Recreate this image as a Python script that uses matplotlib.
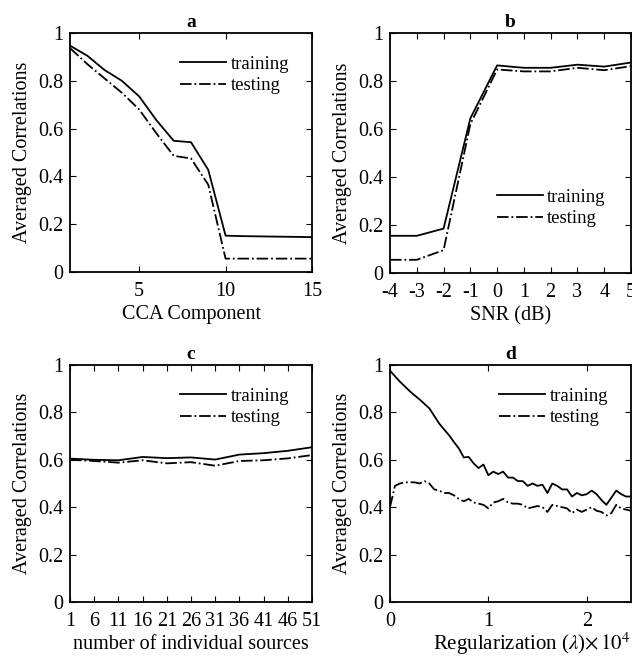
import matplotlib
matplotlib.use('Agg')
import matplotlib.pyplot as plt

plt.rcParams['font.family'] = ['Liberation Serif', 'DejaVu Serif']
plt.rcParams['mathtext.fontset'] = 'stix'
plt.rcParams['axes.unicode_minus'] = False
plt.rcParams['font.size'] = 14.5

# panel a
cca_x = list(range(1, 16))
cca_train = [0.947, 0.905, 0.845, 0.80, 0.735, 0.635, 0.549, 0.543, 0.427, 0.152,
             0.150, 0.149, 0.148, 0.147, 0.146]
cca_test = [0.937, 0.870, 0.810, 0.750, 0.680, 0.580, 0.486, 0.475, 0.365, 0.056,
            0.056, 0.056, 0.056, 0.056, 0.056]

# panel b
snr_x = [-4, -3, -2, -1, 0, 1, 2, 3, 4, 5]
snr_train = [0.155, 0.155, 0.185, 0.644, 0.865, 0.855, 0.855, 0.868, 0.860, 0.877]
snr_test = [0.055, 0.055, 0.095, 0.620, 0.848, 0.840, 0.840, 0.855, 0.845, 0.862]

# panel c
src_x = [1, 6, 11, 16, 21, 26, 31, 36, 41, 46, 51]
src_train = [0.605, 0.600, 0.598, 0.612, 0.607, 0.610, 0.601, 0.622, 0.628, 0.638, 0.653]
src_test = [0.600, 0.595, 0.588, 0.598, 0.585, 0.590, 0.575, 0.595, 0.598, 0.606, 0.620]

# panel d (x in units of 1e4)
reg_x = [i * 0.05 for i in range(50)]
reg_train = [0.976, 0.953, 0.930, 0.910, 0.890, 0.872, 0.855, 0.836, 0.817, 0.785,
             0.753, 0.728, 0.704, 0.675, 0.648, 0.610, 0.612, 0.585, 0.565, 0.580,
             0.535, 0.550, 0.540, 0.550, 0.525, 0.525, 0.510, 0.510, 0.490, 0.500,
             0.490, 0.495, 0.460, 0.500, 0.490, 0.475, 0.475, 0.445, 0.460, 0.450,
             0.455, 0.470, 0.455, 0.430, 0.410, 0.440, 0.470, 0.455, 0.445, 0.445]
reg_test = [0.400, 0.490, 0.500, 0.505, 0.505, 0.505, 0.500, 0.510, 0.500, 0.475,
            0.470, 0.460, 0.460, 0.450, 0.435, 0.425, 0.435, 0.420, 0.415, 0.410,
            0.395, 0.420, 0.425, 0.435, 0.420, 0.415, 0.415, 0.410, 0.395, 0.400,
            0.405, 0.400, 0.380, 0.410, 0.405, 0.400, 0.395, 0.375, 0.390, 0.380,
            0.390, 0.400, 0.385, 0.380, 0.365, 0.375, 0.410, 0.395, 0.390, 0.385]

fig = plt.figure(figsize=(6.32, 6.57), dpi=100)
W, H = 632, 657


def make_ax(l, r, t, b):
    return fig.add_axes([l / W, 1 - b / H, (r - l) / W, (b - t) / H])


axa = make_ax(70, 312, 33, 272)
axb = make_ax(390, 631, 33, 273)
axc = make_ax(70, 312, 365, 602)
axd = make_ax(390, 631, 365, 602)

lw = 1.3
leg_kw = dict(frameon=False, handlelength=2.45, handletextpad=0.25,
              labelspacing=0.25, fontsize=13.5)
panels = [
    (axa, cca_x, cca_train, cca_test, 'a', 'CCA Component'),
    (axb, snr_x, snr_train, snr_test, 'b', 'SNR (dB)'),
    (axc, src_x, src_train, src_test, 'c', 'number of individual sources'),
    (axd, reg_x, reg_train, reg_test, 'd', r'Regularization ($\lambda$)$\times\,10^4$'),
]

for ax, x, tr, te, title, xlab in panels:
    ax.plot(x, tr, color='black', lw=lw, label='training')
    ax.plot(x, te, color='black', lw=lw, ls='-.', label='testing')
    ax.set_ylim(0, 1)
    ax.set_yticks([0, 0.2, 0.4, 0.6, 0.8, 1])
    ax.set_yticklabels(['0', '0.2', '0.4', '0.6', '0.8', '1'])
    ax.set_title(title, fontweight='bold', fontsize=14, pad=4)
    ax.set_ylabel('Averaged Correlations', labelpad=4)
    ax.tick_params(direction='in', top=True, right=True, length=4, width=0.8)
    ax.tick_params(axis='x', pad=7)
    ax.tick_params(axis='y', pad=5)
    for s in ax.spines.values():
        s.set_linewidth(1.3)
    if ax is axb:
        ax.legend(loc='lower right', bbox_to_anchor=(0.965, 0.12), **leg_kw)
    else:
        ax.legend(loc='upper right', borderaxespad=0.8, **leg_kw)
    if ax is axd:
        ax.set_xlabel(xlab, loc='right', labelpad=0, fontsize=15)
    else:
        ax.set_xlabel(xlab, labelpad=3)

axa.set_xlim(1, 15)
axa.set_xticks([5, 10, 15])
axb.set_xlim(-4, 5)
axb.set_xticks(snr_x)
axc.set_xlim(1, 51)
axc.set_xticks(src_x)
axd.set_xlim(0, 2.45)
axd.set_xticks([0, 1, 2])

fig.savefig('out.png', dpi=100)
